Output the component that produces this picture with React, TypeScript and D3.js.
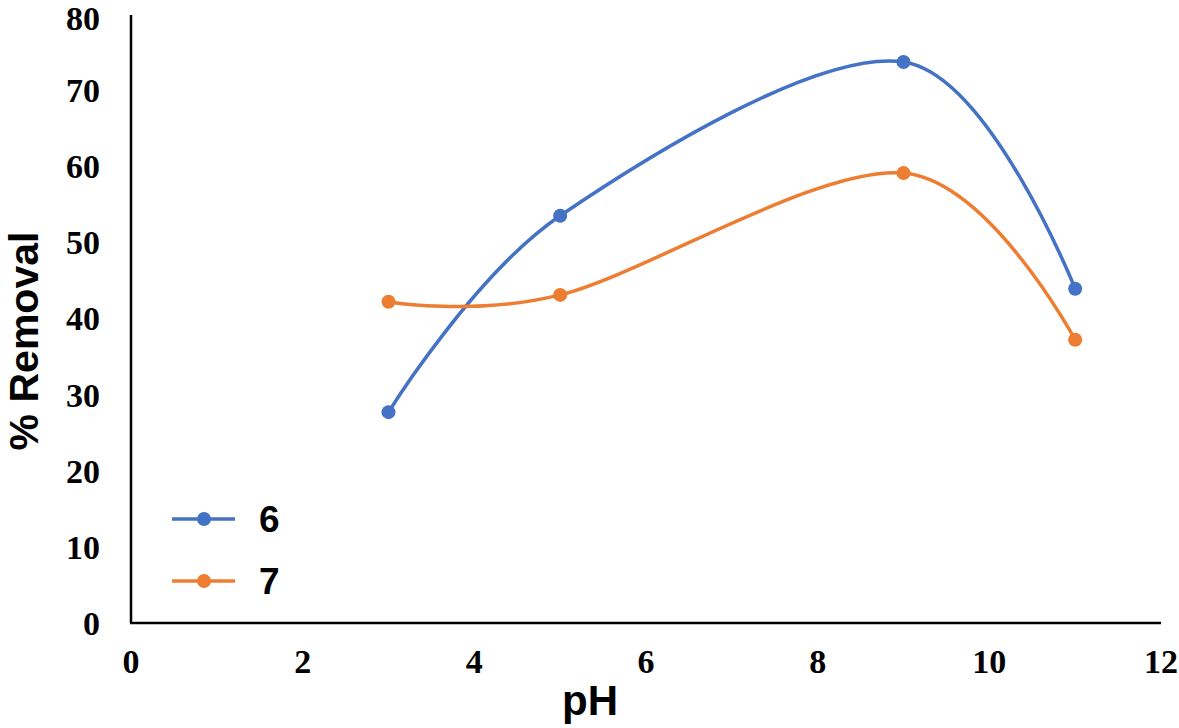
import React from "react";
import * as d3 from "d3";

const phValues = [3, 5, 9, 11];
const series6 = [27.7, 53.5, 73.7, 43.9];
const series7 = [42.2, 43.1, 59.1, 37.2];
const xTicks = [0, 2, 4, 6, 8, 10, 12];
const yTicks = [0, 10, 20, 30, 40, 50, 60, 70, 80];
const seriesNames = ["6", "7"];
const seriesColors = ["#4472C4", "#ED7D31"];

export default function App() {
  const W = 1179, H = 728;
  const x = d3.scaleLinear().domain([0, 12]).range([131, 1161]);
  const y = d3.scaleLinear().domain([0, 80]).range([623, 14]);
  const line = d3
    .line<[number, number]>()
    .x((d) => x(d[0]))
    .y((d) => y(d[1]))
    .curve(d3.curveCardinal.tension(0));
  const all = [series6, series7];
  return (
    <svg
      width={W}
      height={H}
      style={{ position: "absolute", left: 0, top: 0, background: "#fff" }}
    >
      <rect width={W} height={H} fill="#fff" />
      <line x1={x(0)} x2={x(0)} y1={y(80) + 1} y2={y(0)} stroke="#000" strokeWidth={2.5} />
      <line x1={x(0) - 1} x2={x(12)} y1={y(0)} y2={y(0)} stroke="#000" strokeWidth={2.5} />
      {yTicks.map((t) => (
        <text
          key={"y" + t}
          x={100}
          y={y(t) + (t === 80 ? 4 : 0)}
          dy="0.35em"
          textAnchor="end"
          fontFamily="'Liberation Serif', serif"
          fontWeight="bold"
          fontSize={34}
          fill="#000"
        >
          {t}
        </text>
      ))}
      {xTicks.map((t) => (
        <text
          key={"x" + t}
          x={x(t)}
          y={673}
          textAnchor="middle"
          fontFamily="'Liberation Serif', serif"
          fontWeight="bold"
          fontSize={34}
          fill="#000"
        >
          {t}
        </text>
      ))}
      <text
        x={590}
        y={715}
        textAnchor="middle"
        fontFamily="'Liberation Sans', Arial, sans-serif"
        fontWeight="bold"
        fontSize={42}
        fill="#000"
      >
        pH
      </text>
      <text
        transform={`translate(38,341) rotate(-90)`}
        textAnchor="middle"
        fontFamily="'Liberation Sans', Arial, sans-serif"
        fontWeight="bold"
        fontSize={41}
        fill="#000"
      >
        % Removal
      </text>
      {all.map((s, i) => {
        const pts = phValues.map((p, j) => [p, s[j]] as [number, number]);
        return (
          <g key={"s" + i}>
            <path d={line(pts) || ""} fill="none" stroke={seriesColors[i]} strokeWidth={3.5} />
            {pts.map((d, j) => (
              <circle key={j} cx={x(d[0])} cy={y(d[1])} r={7} fill={seriesColors[i]} />
            ))}
          </g>
        );
      })}
      {seriesNames.map((n, i) => {
        const ly = 519 + i * 62;
        return (
          <g key={"l" + i}>
            <line x1={172} x2={235} y1={ly} y2={ly} stroke={seriesColors[i]} strokeWidth={3.5} />
            <circle cx={204} cy={ly} r={7} fill={seriesColors[i]} />
            <text
              x={259}
              y={ly}
              dy="0.36em"
              fontFamily="'Liberation Sans', Arial, sans-serif"
              fontWeight="bold"
              fontSize={37}
              fill="#000"
            >
              {n}
            </text>
          </g>
        );
      })}
    </svg>
  );
}
